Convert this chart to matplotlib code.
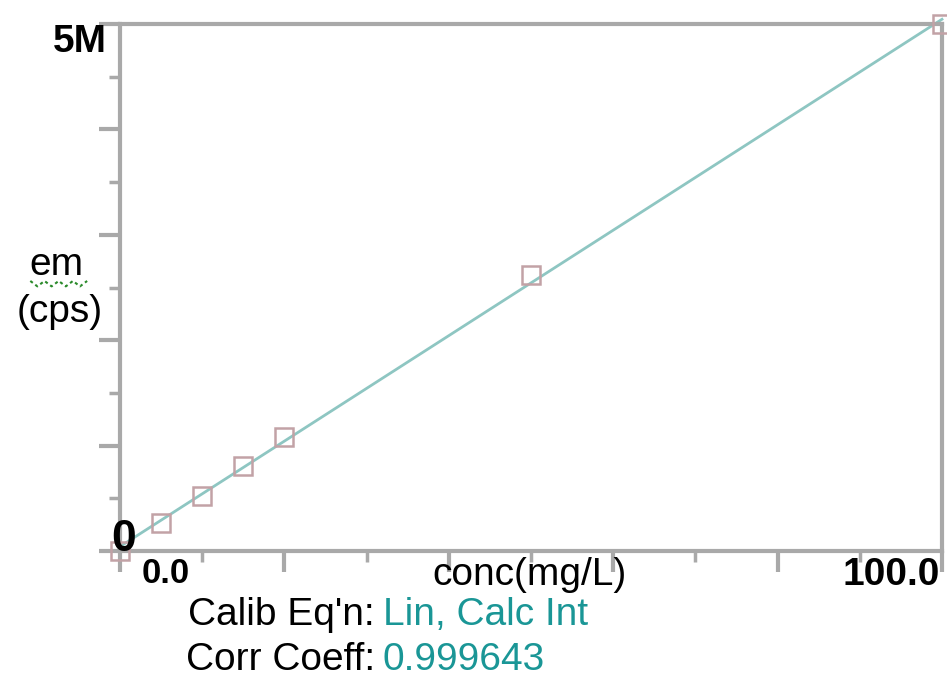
import numpy as np
import matplotlib.pyplot as plt
from matplotlib.lines import Line2D

plt.rcParams['font.family'] = ['Liberation Sans', 'DejaVu Sans']

# calibration standards
conc = [0, 5, 10, 15, 20, 50, 100]            # mg/L
cps = [0.0, 0.27e6, 0.52e6, 0.81e6, 1.08e6, 2.62e6, 5.0e6]
eqn = "Lin, Calc Int"
corr = "0.999643"

grey = '#a9a9a9'
teal = '#8ec6c2'
mark = '#c2a2a6'
txt_teal = '#1a9696'

fig = plt.figure(figsize=(9.47, 6.77), dpi=100)
ax = fig.add_axes([0.1267, 0.1861, 0.868, 0.7784])

slope, icpt = np.polyfit(conc, cps, 1)
xs = np.array([0, 100])
ax.plot(xs, slope * xs + icpt, color=teal, lw=2, clip_on=False, zorder=2)
ax.plot(conc, cps, 's', ms=12.5, mfc='none', mec=mark, mew=1.8, clip_on=False, zorder=3)

ax.set_xlim(0, 100)
ax.set_ylim(0, 5e6)

for s in ax.spines.values():
    s.set_color(grey)
    s.set_linewidth(3)

ax.set_xticks(np.arange(0, 101, 20))
ax.set_xticks(np.arange(10, 100, 20), minor=True)
ax.set_yticks(np.arange(0, 5.01e6, 1e6))
ax.set_yticks(np.arange(0.5e6, 5e6, 1e6), minor=True)
ax.tick_params(which='major', length=15, width=3, color=grey, direction='out')
ax.tick_params(which='minor', length=8, width=2.5, color=grey, direction='out')
ax.tick_params(labelbottom=False, labelleft=False)

# tick labels and axis titles
ax.text(-0.016, 0.966, '5M', transform=ax.transAxes, ha='right', va='center',
        fontsize=28, fontweight='bold')
ax.text(0.005, 0.022, '0', transform=ax.transAxes, ha='center', va='center',
        fontsize=32, fontweight='bold')
ax.text(0.055, -0.061, '0.0', transform=ax.transAxes, ha='center', va='baseline',
        fontsize=25, fontweight='bold')
ax.text(0.9976, -0.0645, '100.0', transform=ax.transAxes, ha='right', va='baseline',
        fontsize=28, fontweight='bold')
ax.text(0.4976, -0.0645, 'conc(mg/L)', transform=ax.transAxes, ha='center', va='baseline',
        fontsize=28)
fig.text(0.060, 0.594, 'em', ha='center', va='baseline', fontsize=28)
fig.text(0.063, 0.524, '(cps)', ha='center', va='baseline', fontsize=28)

# spell-check squiggle under "em"
zx = np.linspace(0.032, 0.092, 9)
zy = 0.585 - 0.008 * (np.arange(9) % 2)
fig.add_artist(Line2D(zx, zy, color='#2a8a2a', lw=1.5, linestyle=(0, (1.5, 1.5))))

fig.text(0.396, 0.077, "Calib Eq'n:", ha='right', va='baseline', fontsize=28)
fig.text(0.4044, 0.077, eqn, ha='left', va='baseline', fontsize=28, color=txt_teal)
fig.text(0.396, 0.010, "Corr Coeff:", ha='right', va='baseline', fontsize=28)
fig.text(0.4044, 0.010, corr, ha='left', va='baseline', fontsize=28, color=txt_teal)

fig.savefig('out.png', dpi=100)
